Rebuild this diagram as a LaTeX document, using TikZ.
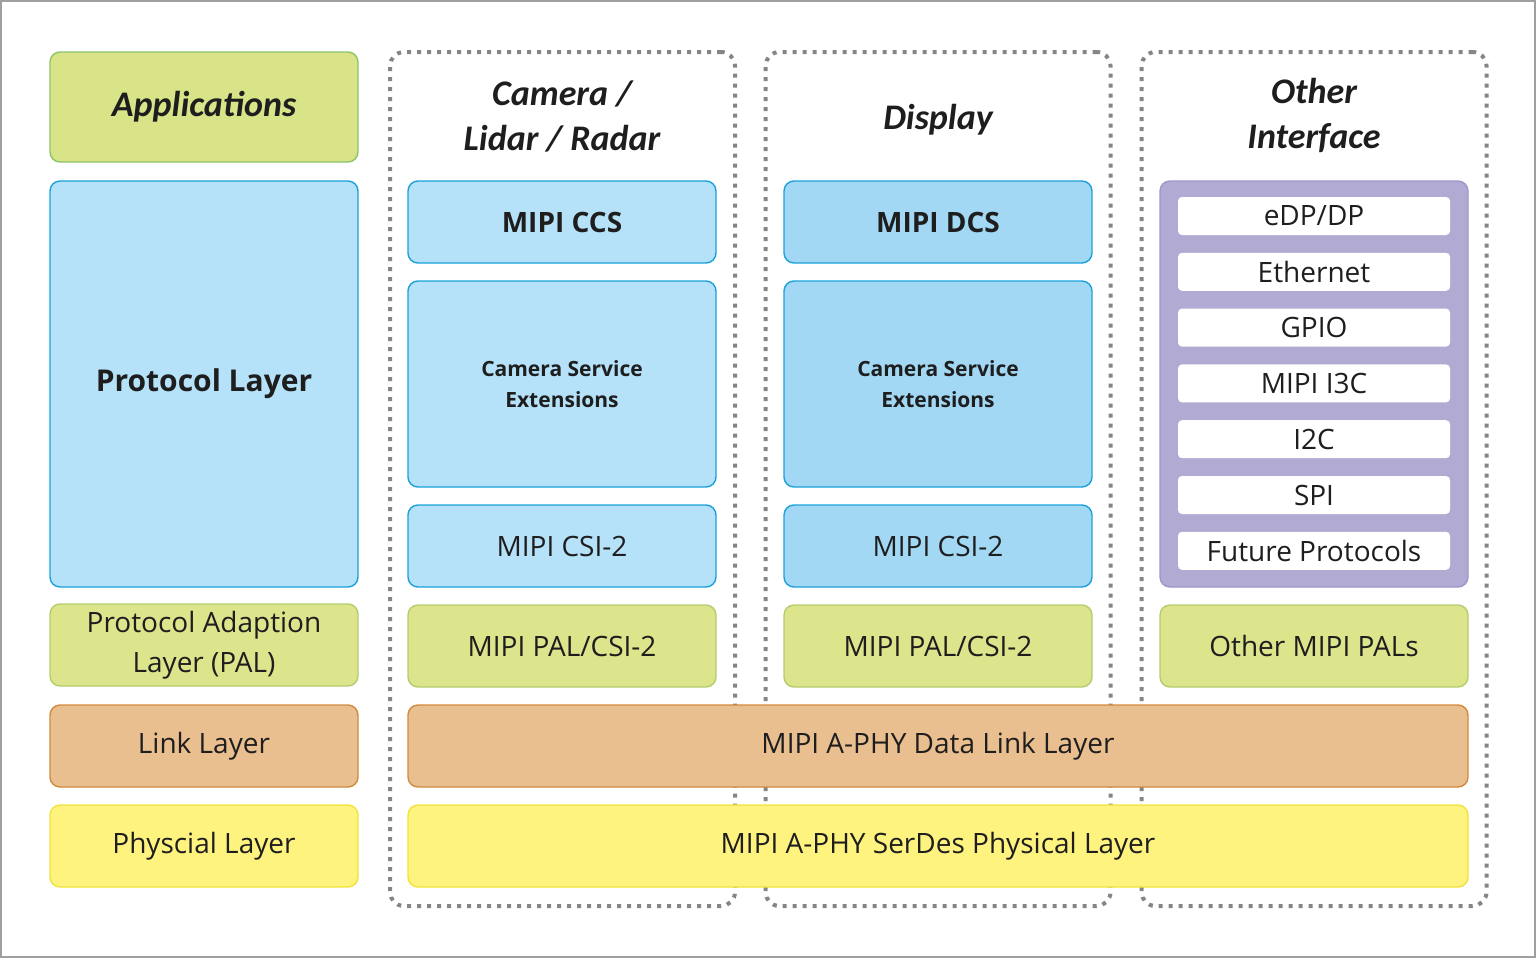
\documentclass[tikz,border=0pt]{standalone}
\usepackage{fontspec}
\setmainfont{Open Sans}
\newfontfamily\headfont{Carlito}
\usetikzlibrary{positioning}

\definecolor{txt}{HTML}{1E1E1E}
\definecolor{appfill}{HTML}{D9E387}
\definecolor{appdraw}{HTML}{8CC46A}
\definecolor{palfill}{HTML}{DCE48C}
\definecolor{paldraw}{HTML}{B5CC6E}
\definecolor{bluefill}{HTML}{B5E2F8}
\definecolor{bluefillb}{HTML}{A2D8F4}
\definecolor{bluedraw}{HTML}{1BA1DA}
\definecolor{linkfill}{HTML}{EABF90}
\definecolor{linkdraw}{HTML}{D08A3E}
\definecolor{phyfill}{HTML}{FFF380}
\definecolor{phydraw}{HTML}{F2E23A}
\definecolor{purpfill}{HTML}{B1AAD3}
\definecolor{purpdraw}{HTML}{9E96C9}
\definecolor{dotgray}{HTML}{858585}

\begin{document}
\begin{tikzpicture}[
    x=0.5pt, y=-0.5pt,
    every node/.style={text=txt, align=center, inner sep=0pt},
    layer/.style={rectangle, rounded corners=5pt, line width=0.7pt,
        minimum width=154pt, minimum height=41pt, font=\fontsize{14}{20}\selectfont},
    appbox/.style={layer, fill=appfill, draw=appdraw, minimum height=55pt},
    protobox/.style={layer, fill=bluefill, draw=bluedraw},
    palbox/.style={layer, fill=palfill, draw=paldraw},
    linkbox/.style={layer, fill=linkfill, draw=linkdraw},
    phybox/.style={layer, fill=phyfill, draw=phydraw},
    groupbox/.style={rectangle, rounded corners=7pt, draw=dotgray, line width=2pt,
        dash pattern=on 2pt off 3pt, minimum width=172.5pt, minimum height=427pt},
    itembox/.style={rectangle, rounded corners=2pt, fill=white,
        minimum width=136pt, minimum height=19pt, font=\fontsize{14}{17}\selectfont},
    head/.style={font=\headfont\bfseries\itshape\fontsize{18}{22.5}\selectfont},
    boldtxt/.style={font=\bfseries\fontsize{14}{17}\selectfont}
]
\useasboundingbox (0,0) rectangle (1536,958);
\draw[gray!75, line width=1pt] (1,1) rectangle (1535,957);

% Dotted groups
\node[groupbox] (camgrp) at (562.5,479) {};
\node[groupbox] (dispgrp) at (938,479) {};
\node[groupbox] (othergrp) at (1314,479) {};

% Left column
\node[appbox, head] (app) at (204,107) {Applications};
\node[protobox, minimum height=203pt, font=\bfseries\fontsize{15}{19}\selectfont] (proto) at (204,384) {Protocol Layer};
\node[palbox] (pal) at (204,645) {Protocol Adaption\\Layer (PAL)};
\node[linkbox] (link) at (204,746) {Link Layer};
\node[phybox] (phy) at (204,846) {Physcial Layer};

% Camera / Lidar / Radar
\node[head] (camhead) at (562,116) {Camera /\\Lidar / Radar};
\node[protobox, boldtxt] (ccs) at (562,222) {MIPI CCS};
\node[protobox, minimum height=103pt, font=\bfseries\fontsize{10.5}{15.5}\selectfont] (camcse) at (562,384) {Camera Service\\Extensions};
\node[protobox] (camcsi) at (562,546) {MIPI CSI-2};
\node[palbox] (campal) at (562,646) {MIPI PAL/CSI-2};

% Display
\node[head] (disphead) at (938,120) {Display};
\node[protobox, fill=bluefillb, boldtxt] (dcs) at (938,222) {MIPI DCS};
\node[protobox, fill=bluefillb, minimum height=103pt, font=\bfseries\fontsize{10.5}{15.5}\selectfont] (dispcse) at (938,384) {Camera Service\\Extensions};
\node[protobox, fill=bluefillb] (dispcsi) at (938,546) {MIPI CSI-2};
\node[palbox] (disppal) at (938,646) {MIPI PAL/CSI-2};

% Other Interface
\node[head] (otherhead) at (1314,115) {Other\\Interface};
\node[layer, fill=purpfill, draw=purpdraw, minimum height=203pt] (iface) at (1314,384) {};
\foreach \name/\txt [count=\i from 0] in {edp/eDP\slash DP, eth/Ethernet, gpio/GPIO,
        ithreec/MIPI I3C, itwoc/I2C, spi/SPI, future/Future Protocols}
    \node[itembox] (\name) at (1314,216+55.8*\i) {\txt};
\node[palbox] (otherpal) at (1314,646) {Other MIPI PALs};

% Shared A-PHY layers
\node[linkbox, minimum width=530pt] (aphylink) at (938,746) {MIPI A-PHY Data Link Layer};
\node[phybox, minimum width=530pt] (aphyphy) at (938,846) {MIPI A-PHY SerDes Physical Layer};

\end{tikzpicture}
\end{document}
